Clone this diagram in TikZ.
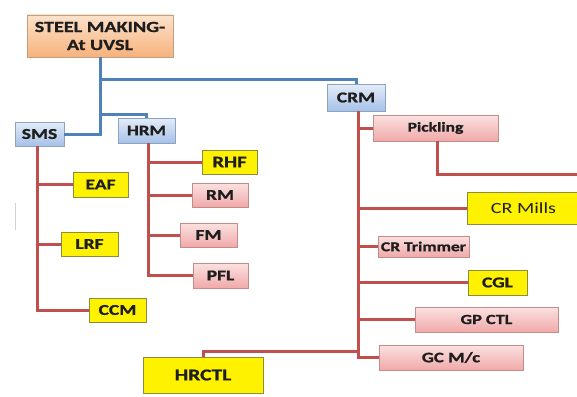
\documentclass[tikz,border=0pt]{standalone}
\usepackage{fontspec}
\setmainfont{Carlito}[FakeStretch=1.3, BoldFeatures={FakeBold=1.2}]
\usetikzlibrary{shadows}

\definecolor{linered}{HTML}{C0504D}
\definecolor{lineblue}{HTML}{4F81BD}
\definecolor{pinktop}{HTML}{FBE1E1}
\definecolor{pinkbot}{HTML}{F1A9A9}
\definecolor{pinkedge}{HTML}{C58C8C}
\definecolor{bluetop}{HTML}{E4ECF8}
\definecolor{bluebot}{HTML}{A6C1E8}
\definecolor{blueedge}{HTML}{8DA3C4}
\definecolor{orangetop}{HTML}{FCE2CB}
\definecolor{orangebot}{HTML}{F7B27C}
\definecolor{orangeedge}{HTML}{C49E80}
\definecolor{yellowedge}{HTML}{8C8C3C}
\definecolor{txt}{HTML}{1E1E1E}

\begin{document}
\begin{tikzpicture}[x=1pt,y=-1pt,
  basebox/.style={line width=0.7pt, inner sep=0pt, text=txt,
    font=\bfseries\fontsize{15}{17}\selectfont,
    drop shadow={opacity=0.3,shadow xshift=1.2pt,shadow yshift=-1.2pt}},
  yellowbox/.style={basebox, fill=yellow, draw=yellowedge},
  pinkbox/.style={basebox, top color=pinktop, bottom color=pinkbot, draw=pinkedge},
  bluebox/.style={basebox, top color=bluetop, bottom color=bluebot, draw=blueedge},
  orangebox/.style={basebox, top color=orangetop, bottom color=orangebot, draw=orangeedge},
  redline/.style={draw=linered, line width=3pt},
  blueline/.style={draw=lineblue, line width=3pt}]
\useasboundingbox (0,0) rectangle (577,396);

% top of the tree
\node[orangebox, minimum width=146pt, minimum height=42pt, align=center,
  font=\bfseries\fontsize{15.5}{18}\selectfont] (steel) at (100,36) {STEEL MAKING-\\At UVSL};
\node[bluebox, minimum width=49pt, minimum height=24pt] (sms) at (39.5,134) {SMS};
\node[bluebox, minimum width=57pt, minimum height=25pt,
  font=\bfseries\fontsize{14.5}{16}\selectfont] (hrm) at (146.5,130.5) {HRM};
\node[bluebox, minimum width=58pt, minimum height=27pt] (crm) at (356,97.5) {CRM};

% SMS units
\node[yellowbox, minimum width=55pt, minimum height=25pt] (eaf) at (100.5,184.5) {EAF};
\node[yellowbox, minimum width=57pt, minimum height=24pt] (lrf) at (89.5,244) {LRF};
\node[yellowbox, minimum width=57pt, minimum height=24pt] (ccm) at (117.5,310) {CCM};

% HRM units
\node[yellowbox, minimum width=55pt, minimum height=24pt,
  font=\bfseries\fontsize{16}{18}\selectfont] (rhf) at (229.5,162) {RHF};
\node[pinkbox, minimum width=56pt, minimum height=24pt] (rm) at (220,195) {RM};
\node[pinkbox, minimum width=57pt, minimum height=24pt] (fm) at (208.5,235) {FM};
\node[pinkbox, minimum width=55pt, minimum height=25pt] (pfl) at (220.5,275.5) {PFL};

% CRM units
\node[pinkbox, minimum width=125pt, minimum height=26pt,
  font=\bfseries\fontsize{13.5}{15}\selectfont] (pickling) at (435.5,128) {Pickling};
\node[yellowbox, minimum width=113pt, minimum height=32pt,
  font=\fontsize{15.5}{18}\selectfont] (crmills) at (523.5,208) {CR Mills};
\node[pinkbox, minimum width=91pt, minimum height=21pt,
  font=\bfseries\fontsize{13.5}{15}\selectfont] (crtrim) at (423.5,246.5) {CR Trimmer};
\node[yellowbox, minimum width=59pt, minimum height=25pt] (cgl) at (497.5,282.5) {CGL};
\node[pinkbox, minimum width=143pt, minimum height=25pt,
  font=\bfseries\fontsize{14}{16}\selectfont] (gpctl) at (486.5,319.5) {GP CTL};
\node[pinkbox, minimum width=144pt, minimum height=25pt,
  font=\bfseries\fontsize{14.5}{16}\selectfont] (gcmc) at (451,357.5) {GC M/c};
\node[yellowbox, minimum width=120pt, minimum height=36pt,
  font=\bfseries\fontsize{16.5}{18}\selectfont] (hrctl) at (203,375) {HRCTL};
\coordinate (pickout) at (580,174);

% blue links
\draw[blueline] (steel.south) |- (sms.east);
\draw[blueline] (steel.south) |- ([yshift=3pt]hrm.north) -- (hrm.north);
\draw[blueline] (steel.south) |- ([yshift=4pt]crm.north) -- (crm.north);

% red links
\foreach \c in {eaf,lrf,ccm}
  \draw[redline] ([xshift=-2pt]sms.south) |- (\c.west);
\foreach \c in {rhf,rm,fm,pfl}
  \draw[redline] ([xshift=1.5pt]hrm.south) |- (\c.west);
\foreach \c in {pickling,crmills,crtrim,cgl,gpctl,gcmc}
  \draw[redline] ([xshift=2pt]crm.south) |- (\c.west);
\draw[redline] ([xshift=2pt]crm.south) |- ([yshift=5pt]hrctl.north) -- (hrctl.north);
\draw[redline] ([xshift=1.5pt]pickling.south) |- (pickout);

\draw[gray!35, line width=1pt] (15,203) -- (15,230);
\end{tikzpicture}
\end{document}
